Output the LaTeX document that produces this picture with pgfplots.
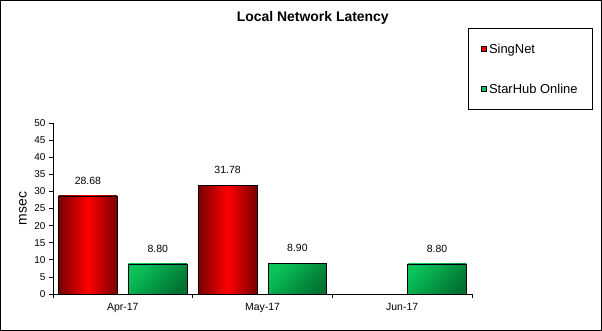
\documentclass[border=0pt]{standalone}
\usepackage{pgfplots}
\pgfplotsset{compat=1.18}
\usepackage{fontspec}
\setmainfont{Liberation Sans}
\definecolor{rdark}{RGB}{120,0,0}
\definecolor{rlight}{RGB}{255,0,0}
\definecolor{glight}{RGB}{10,196,90}
\definecolor{gdark}{RGB}{0,115,50}
\begin{document}
\begin{tikzpicture}
\useasboundingbox (0,0) rectangle (602bp,331bp);
\draw[line width=1bp] (0.5bp,0.5bp) rectangle (601.5bp,330.5bp);
\begin{axis}[
  at={(53bp,37bp)}, anchor=south west,
  scale only axis, width=419bp, height=171bp,
  xmin=-0.5, xmax=2.5, ymin=0, ymax=50,
  axis x line*=bottom, axis y line*=left,
  axis line style={line width=0.8bp, -},
  xtick={-0.5,0.5,1.5,2.5},
  xticklabels={Apr-17,May-17,Jun-17},
  x tick label as interval,
  ytick={0,5,...,50},
  tick align=outside, major tick length=4bp,
  tick style={line width=0.8bp, black},
  /pgf/number format/assume math mode=true,
  ticklabel style={font=\fontsize{10}{12}\selectfont},
  xticklabel style={font=\fontsize{10.5}{12}\selectfont, yshift=-2bp},
  ylabel={msec},
  ylabel style={at={(axis description cs:-0.0716,0.5)}, anchor=center, font=\fontsize{14}{16}\selectfont},
  title={\textbf{Local Network Latency}},
  every axis title/.style={at={(axis description cs:0.62,1.614)}, anchor=center, font=\fontsize{14}{16}\selectfont},
  ybar, bar width=0.42,
  nodes near coords,
  nodes near coords style={font=\fontsize{10.5}{12}\selectfont, yshift=8bp,
    /pgf/number format/.cd, fixed, fixed zerofill, precision=2},
  legend style={at={(axis description cs:0.9905,1.5556)}, anchor=north west,
    draw=black, line width=0.8bp, inner xsep=13bp, inner ysep=14bp, row sep=27.4bp,
    font=\fontsize{13}{15}\selectfont, nodes={text height=9bp, text depth=0pt}},
  legend cell align=left,
  legend image code/.code={\draw[#1, line width=0.6bp] (0bp,-2.5bp) rectangle (5bp,2.5bp);},
  redbar/.style={forget plot, bar shift=-0.25, draw=black, line width=0.8bp,
    left color=rdark, right color=rdark, middle color=rlight},
  greenbar/.style={forget plot, bar shift=0.25, draw=black, line width=0.8bp,
    shading=axis, top color=glight, bottom color=gdark, shading angle=45},
]
\addplot[redbar] coordinates {(0,28.68)};
\addplot[redbar] coordinates {(1,31.78)};
\addplot[greenbar] coordinates {(0,8.80)};
\addplot[greenbar] coordinates {(1,8.90)};
\addplot[greenbar] coordinates {(2,8.80)};
\addlegendimage{fill=red, draw=black}
\addlegendentry{SingNet}
\addlegendimage{fill=glight, draw=black}
\addlegendentry{StarHub Online}
\end{axis}
\end{tikzpicture}
\end{document}
